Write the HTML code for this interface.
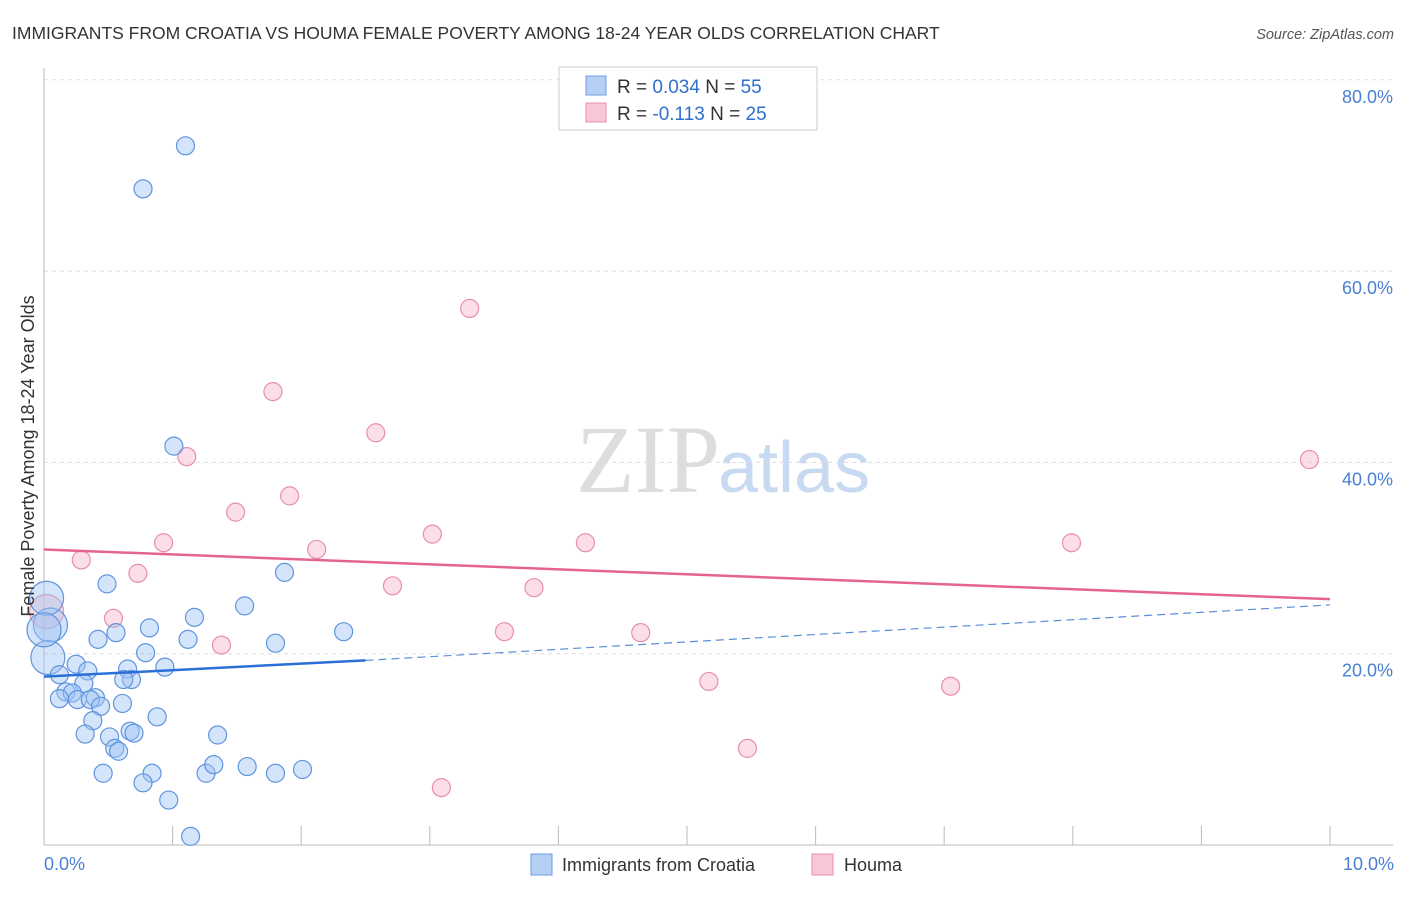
<!DOCTYPE html>
<html><head><meta charset="utf-8"><style>
body{margin:0;background:#fff;font-family:"Liberation Sans",sans-serif;}
</style></head><body>
<svg width="1406" height="892" xmlns="http://www.w3.org/2000/svg" font-family="Liberation Sans, sans-serif">
<text x="12" y="39" font-size="17.5" fill="#333">IMMIGRANTS FROM CROATIA VS HOUMA FEMALE POVERTY AMONG 18-24 YEAR OLDS CORRELATION CHART</text>
<text x="1394" y="39" font-size="14.5" fill="#555" font-style="italic" text-anchor="end">Source: ZipAtlas.com</text>
<text x="720" y="492" font-size="96" fill="#ddd" text-anchor="end" font-family="Liberation Serif, serif">ZIP</text>
<text x="718" y="492" font-size="72" fill="#c8daf2">atlas</text>
<g id="grid"></g>
<g id="axes"></g>
<g id="marks"></g>
<text transform="translate(34,456) rotate(-90)" font-size="18" fill="#333" text-anchor="middle">Female Poverty Among 18-24 Year Olds</text>
<text x="44" y="870" font-size="18" fill="#4a7fd4">0.0%</text>
<text x="1394" y="870" font-size="18" fill="#4a7fd4" text-anchor="end">10.0%</text>
<g>
<rect x="559" y="67" width="258" height="63" fill="#fff" stroke="#ccc"/>
<rect x="586" y="76" width="20" height="19" fill="#b6d0f5" stroke="#6a9be0"/>
<rect x="586" y="103" width="20" height="19" fill="#f8c6d5" stroke="#e890aa"/>
<text x="617" y="93" font-size="19" fill="#333">R = <tspan fill="#2f6fd0">0.034</tspan>   N = <tspan fill="#2f6fd0">55</tspan></text>
<text x="617" y="120" font-size="19" fill="#333">R = <tspan fill="#2f6fd0">-0.113</tspan>   N = <tspan fill="#2f6fd0">25</tspan></text>
</g>
<g>
<rect x="531" y="854" width="21" height="21" fill="#b6d0f5" stroke="#6a9be0"/>
<text x="562" y="871" font-size="18" fill="#333">Immigrants from Croatia</text>
<rect x="812" y="854" width="21" height="21" fill="#f8c6d5" stroke="#e890aa"/>
<text x="844" y="871" font-size="18" fill="#333">Houma</text>
</g>
</svg>
<script>
const yTicks=[20,40,60,80];
const yTickLabels=["20.0%","40.0%","60.0%","80.0%"];
const blueX=[1.10,0.77,1.01,0.49,1.87,1.56,1.17,0.82,0.56,0.42,1.12,1.80,2.33,0.79,0.05,0.03,0.94,0.65,0.25,0.34,0.12,0.68,0.62,0.31,0.17,0.40,0.22,0.12,0.26,0.36,0.44,0.61,0.88,0.38,0.67,0.51,0.32,0.70,1.35,0.55,0.58,0.46,0.84,1.26,1.32,1.58,1.80,2.01,0.77,0.97,1.14,0.02,0.00];
const blueY=[73.1,68.6,41.7,27.3,28.5,25.0,23.8,22.7,22.2,21.5,21.5,21.1,22.3,20.1,23.0,19.6,18.6,18.4,18.9,18.2,17.8,17.3,17.3,16.9,16.0,15.4,15.9,15.3,15.2,15.2,14.5,14.8,13.4,13.0,11.9,11.3,11.6,11.7,11.5,10.1,9.8,7.5,7.5,7.5,8.4,8.2,7.5,7.9,6.5,4.7,0.9,25.8,22.5];
const blueBig=[0,0,0,0,0,0,0,0,0,0,0,0,0,0,1,1,0,0,0,0,0,0,0,0,0,0,0,0,0,0,0,0,0,0,0,0,0,0,0,0,0,0,0,0,0,0,0,0,0,0,0,1,1];
const pinkX=[3.31,1.78,2.58,1.11,1.49,1.91,0.93,0.29,0.73,2.12,3.02,4.21,2.71,3.81,0.54,1.38,3.58,4.64,5.17,7.05,5.47,3.09,9.84,7.99,0.02];
const pinkY=[56.1,47.4,43.1,40.6,34.8,36.5,31.6,29.8,28.4,30.9,32.5,31.6,27.1,26.9,23.7,20.9,22.3,22.2,17.1,16.6,10.1,6.0,40.3,31.6,24.4];
const pinkBig=[0,0,0,0,0,0,0,0,0,0,0,0,0,0,0,0,0,0,0,0,0,0,0,0,1];
const blueTrend=[17.6,19.3,25.1]; // at x=0, 2.5, 10
const pinkTrend=[30.9,25.7]; // at x=0, 10
const NS="http://www.w3.org/2000/svg";
const sx=v=>44+v*128.6, sy=v=>845-v*9.565;
function mk(t,a,p){const e=document.createElementNS(NS,t);for(const k in a)e.setAttribute(k,a[k]);document.getElementById(p).appendChild(e);return e;}
yTicks.forEach((t,i)=>{
 const l=mk('line',{x1:44,x2:1393,y1:sy(t),y2:sy(t),stroke:'#ddd','stroke-dasharray':'4,4'},'grid');
 
 
 const tx=mk('text',{x:1393,y:sy(t)+23,'font-size':18,fill:'#4a7fd4','text-anchor':'end'},'grid');
 tx.textContent=yTickLabels[i];
 
 
});
let a=mk('line',{x1:44,x2:44,y1:68,y2:845,stroke:'#bbb'},'axes');


a=mk('line',{x1:44,x2:1393,y1:845,y2:845,stroke:'#bbb'},'axes');


for(let i=1;i<=10;i++){
 const t=mk('line',{x1:sx(i),x2:sx(i),y1:826,y2:845,stroke:'#bbb'},'axes');
 
 
}
function dots(X,Y,B,fill,stroke,name){
 X.forEach((x,i)=>{
  const c=mk('circle',{cx:sx(x),cy:sy(Y[i]),r:B[i]?17:9,fill:fill,stroke:stroke,'stroke-width':1.2},'marks');
  
  
 });
}
dots(pinkX,pinkY,pinkBig,'rgba(246,182,203,0.45)','#e78fab','houma-point');
dots(blueX,blueY,blueBig,'rgba(160,195,243,0.45)','#5f94de','croatia-point');
let tl=mk('line',{x1:sx(0),y1:sy(blueTrend[0]),x2:sx(2.5),y2:sy(blueTrend[1]),stroke:'#2a6fd6','stroke-width':2.5},'marks');


tl=mk('line',{x1:sx(2.5),y1:sy(blueTrend[1]),x2:sx(10),y2:sy(blueTrend[2]),stroke:'#5a8fd8','stroke-width':1.2,'stroke-dasharray':'8,5'},'marks');


tl=mk('line',{x1:sx(0),y1:sy(pinkTrend[0]),x2:sx(10),y2:sy(pinkTrend[1]),stroke:'#e5648e','stroke-width':2.5},'marks');


</script>
</body></html>
